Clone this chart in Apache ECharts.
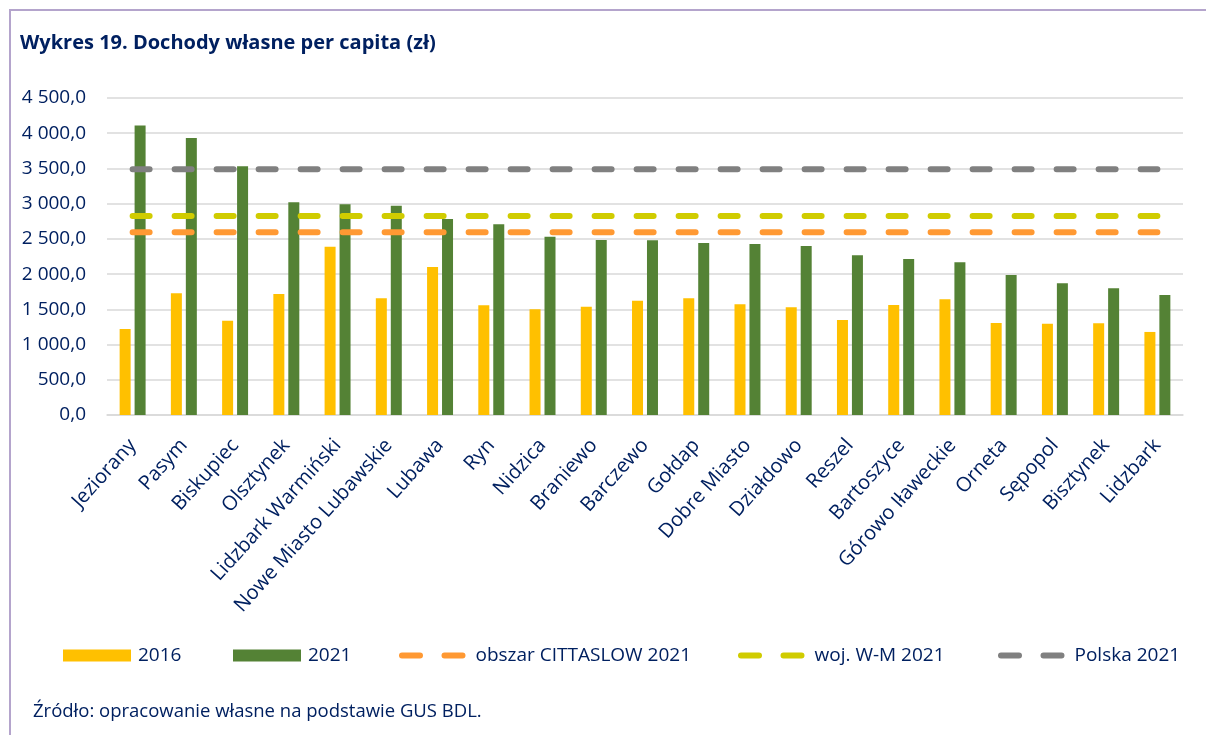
<!DOCTYPE html>
<html>
<head>
<meta charset="utf-8">
<script src="https://cdn.jsdelivr.net/npm/echarts@6/dist/echarts.min.js"></script>
<style>
html,body{margin:0;padding:0;background:#fff;}
#chart{width:1206px;height:735px;}
</style>
</head>
<body>
<div id="chart"></div>
<script>
const categories = ["Jeziorany","Pasym","Biskupiec","Olsztynek","Lidzbark Warmiński","Nowe Miasto Lubawskie","Lubawa","Ryn","Nidzica","Braniewo","Barczewo","Gołdap","Dobre Miasto","Działdowo","Reszel","Bartoszyce","Górowo Iławeckie","Orneta","Sępopol","Bisztynek","Lidzbark"];
const values2016 = [1221,1728,1339,1718,2390,1657,2101,1557,1500,1538,1623,1657,1571,1529,1349,1562,1642,1306,1297,1302,1179];
const values2021 = [4108,3933,3531,3020,2991,2972,2783,2707,2532,2485,2480,2442,2428,2400,2267,2215,2168,1988,1870,1799,1704];
const cittaslow2021 = 2594;
const wojWM2021 = 2826;
const polska2021 = 3489;
const yTicks = {min:0, max:4500, interval:500};

const navy = '#002060';
const font = 'Open Sans';
const dashIcon = 'path://M3,0 H21 A3,3 0 0 1 21,6 H3 A3,3 0 0 1 3,0 Z M45.5,0 H63.5 A3,3 0 0 1 63.5,6 H45.5 A3,3 0 0 1 45.5,0 Z';

function fmt(v){
  const s = v.toFixed(1).replace('.', ',');
  const parts = s.split(',');
  const ip = parts[0].replace(/\B(?=(\d{3})+(?!\d))/g, ' ');
  return ip + ',' + parts[1];
}

function refLine(name, value, color){
  return {
    name: name, type: 'line', symbol: 'none', silent: true,
    data: [[categories[0], value], [categories[categories.length-1], value]],
    lineStyle: {color: color, width: 6, type: [17, 25], cap: 'round'},
    itemStyle: {color: color},
    z: 3
  };
}

function legendAt(name, left, isLine){
  return {
    data: [{name: name, icon: isLine ? dashIcon : 'rect'}],
    left: left, top: 646, padding: 0,
    itemWidth: isLine ? 66.5 : 68, itemHeight: isLine ? 6 : 12, itemGap: 0,
    textStyle: {color: navy, fontFamily: font, fontSize: 19, padding: [0,0,0,isLine ? 5 : 2]},
    itemStyle: {borderWidth: 0}
  };
}

const chart = echarts.init(document.getElementById('chart'), null, {renderer: 'canvas'});
chart.setOption({
  backgroundColor: '#fff',
  animation: false,
  grid: {left: 107, right: 23, top: 98, bottom: 320, containLabel: false},
  xAxis: {
    type: 'category', data: categories, boundaryGap: true,
    axisLine: {lineStyle: {color: '#D9D9D9', width: 1.5}},
    axisTick: {show: false},
    axisLabel: {rotate: 48, color: navy, fontFamily: font, fontSize: 20, margin: 27, interval: 0}
  },
  yAxis: {
    type: 'value', min: yTicks.min, max: yTicks.max, interval: yTicks.interval,
    axisLine: {show: false}, axisTick: {show: false},
    splitLine: {lineStyle: {color: '#D9D9D9', width: 1.5}},
    axisLabel: {color: navy, fontFamily: font, fontSize: 19, margin: 21, formatter: fmt}
  },
  legend: [
    legendAt('2016', 63, false),
    legendAt('2021', 233, false),
    legendAt('obszar CITTASLOW 2021', 399, true),
    legendAt('woj. W-M 2021', 738, true),
    legendAt('Polska 2021', 998, true)
  ],
  series: [
    {name: '2016', type: 'bar', data: values2016, barWidth: 11, barGap: '36%', itemStyle: {color: '#FFC000'}, z: 2},
    {name: '2021', type: 'bar', data: values2021, barWidth: 11, barGap: '36%', itemStyle: {color: '#548235'}, z: 2},
    refLine('obszar CITTASLOW 2021', cittaslow2021, '#FF9933'),
    refLine('woj. W-M 2021', wojWM2021, '#D0CC00'),
    refLine('Polska 2021', polska2021, '#808080')
  ],
  graphic: [
    {type: 'polyline', shape: {points: [[10, 760], [10, 10], [1260, 10]]}, style: {fill: null, stroke: '#B4A4CC', lineWidth: 2}, silent: true},
    {type: 'text', x: 20, y: 43, style: {text: 'Wykres 19. Dochody własne per capita (zł)', fill: navy, font: 'bold 20px "Open Sans"', textVerticalAlign: 'middle', verticalAlign: 'middle'}},
    {type: 'text', x: 33, y: 712, style: {text: 'Źródło: opracowanie własne na podstawie GUS BDL.', fill: navy, font: '18.5px "Open Sans"', textVerticalAlign: 'middle', verticalAlign: 'middle'}}
  ]
});
</script>
</body>
</html>
